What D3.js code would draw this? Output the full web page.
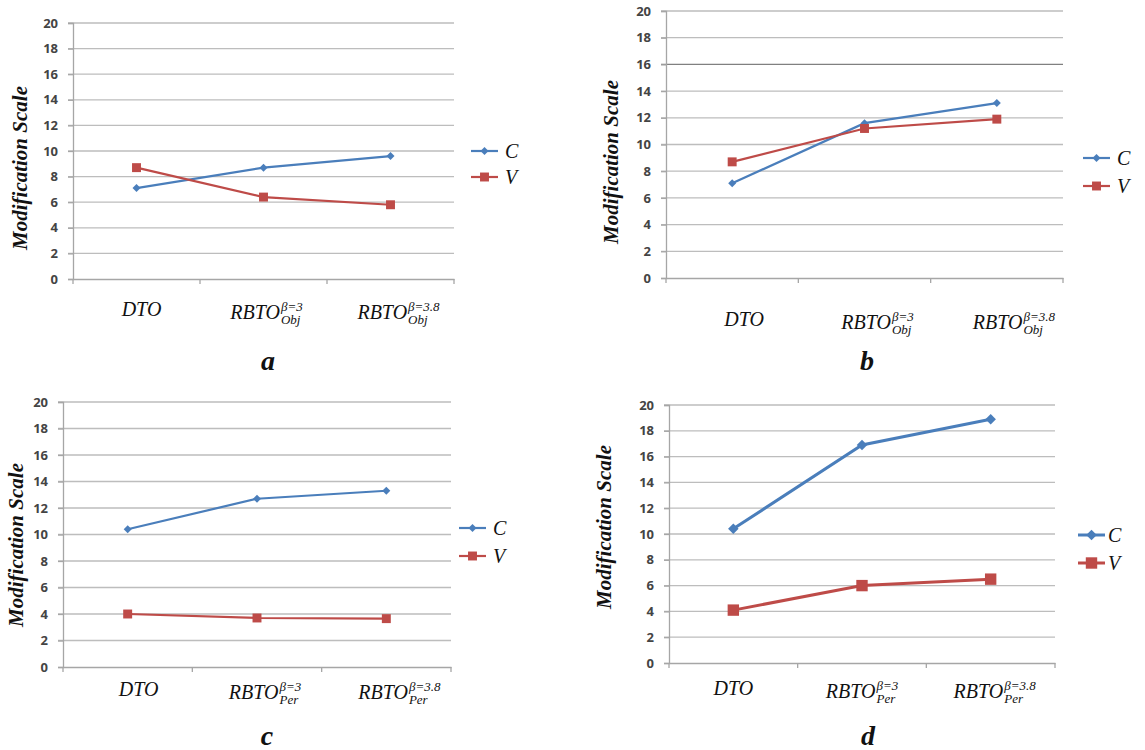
<!DOCTYPE html>
<html>
<head>
<meta charset="utf-8">
<script src="https://cdn.jsdelivr.net/npm/d3@7"></script>
<style>
  body { margin: 0; background: #fff; }
  svg { display: block; }
</style>
</head>
<body>
<script>
var width = 1145,
    height = 750;

// categories and labels
var xBase = ["DTO", "RBTO", "RBTO"];
var xSup = ["", "\u03B2=3", "\u03B2=3.8"];
var xSubObj = ["", "Obj", "Obj"];
var xSubPer = ["", "Per", "Per"];
var yTicks = [0, 2, 4, 6, 8, 10, 12, 14, 16, 18, 20];
var seriesNames = ["C", "V"];
var panelLetters = ["a", "b", "c", "d"];

// values
var aC = [7.1, 8.7, 9.6],   aV = [8.7, 6.4, 5.8];
var bC = [7.1, 11.6, 13.1], bV = [8.7, 11.2, 11.9];
var cC = [10.4, 12.7, 13.3], cV = [4.0, 3.7, 3.65];
var dC = [10.4, 16.9, 18.9], dV = [4.1, 6.0, 6.5];

var colors = ["#4A7EBB", "#BE4B48"];

/* layout of each of the four panels */
var panels = [
  {letter: 0, C: aC, V: aV, sub: xSubObj, x0: 73, x1: 454, y0: 23, y1: 279,
   labelY: 319, labelDx: [5, 3, 8], titleX: 27, titleY: 168,
   legX: 471, legY: [151, 177], letterX: 268, letterY: 370, lw: 2.2, big: false, darkGrid: null},
  {letter: 1, C: bC, V: bV, sub: xSubObj, x0: 666, x1: 1063, y0: 11, y1: 278,
   labelY: 329, labelDx: [12, 13, 17], titleX: 618, titleY: 162,
   legX: 1083, legY: [158, 186], letterX: 867, letterY: 370, lw: 2.2, big: false, darkGrid: 16},
  {letter: 2, C: cC, V: cV, sub: xSubPer, x0: 63, x1: 451, y0: 402, y1: 667,
   labelY: 699, labelDx: [11, 8, 13], titleX: 23, titleY: 545,
   legX: 459, legY: [528, 556], letterX: 267, letterY: 745, lw: 2.2, big: false, darkGrid: null},
  {letter: 3, C: dC, V: dV, sub: xSubPer, x0: 669, x1: 1055, y0: 405, y1: 663,
   labelY: 698, labelDx: [0, 0, 4], titleX: 611, titleY: 527,
   legX: 1078, legY: [535, 563], letterX: 868, letterY: 745, lw: 3, big: true, darkGrid: null}
];

var svg = d3.select('body').append('svg')
    .attr('width', width)
    .attr('height', height);

var serif = "Liberation Serif, Times New Roman, serif";

panels.forEach(drawPanel);

function drawPanel(p) {
  var g = svg.append('g');
  var cats = xBase.map(function(d, i) { return i; });

  var x = d3.scaleBand()
      .domain(cats)
      .range([p.x0, p.x1]);
  var y = d3.scaleLinear()
      .domain([0, 20])
      .range([p.y1, p.y0]);

  /* gridlines */
  g.selectAll('.grid')
    .data(yTicks.slice(1))
    .enter().append('line')
      .attr('x1', p.x0 - 5)
      .attr('x2', p.x1)
      .attr('y1', function(d) { return y(d); })
      .attr('y2', function(d) { return y(d); })
      .style('stroke', function(d) { return d === p.darkGrid ? '#808080' : '#bdbdbd'; })
      .style('stroke-width', 1.3);

  /* y axis */
  var yAxis = d3.axisLeft(y)
      .tickValues(yTicks)
      .tickSize(5)
      .tickPadding(10);
  var ya = g.append('g')
      .attr('transform', 'translate(' + p.x0 + ',0)')
      .call(yAxis);
  ya.select('.domain').style('stroke', '#a6a6a6').style('stroke-width', 1.3);
  ya.selectAll('.tick line').style('stroke', '#a6a6a6').style('stroke-width', 1.3);
  ya.selectAll('.tick text')
      .style('font-family', "Open Sans, sans-serif")
      .style('font-size', '13px')
      .style('font-weight', 'bold')
      .style('fill', '#444');

  /* x axis: line and boundary ticks */
  var xa = d3.axisBottom(x)
      .tickSize(0)
      .tickFormat('');
  var xg = g.append('g')
      .attr('transform', 'translate(0,' + p.y1 + ')')
      .call(xa);
  xg.select('.domain').style('stroke', '#a6a6a6').style('stroke-width', 1.3);
  var bounds = cats.map(function(c) { return x(c); }).concat([p.x1]);
  g.selectAll('.xtick')
    .data(bounds)
    .enter().append('line')
      .attr('x1', function(d) { return d; })
      .attr('x2', function(d) { return d; })
      .attr('y1', p.y1)
      .attr('y2', p.y1 + 5)
      .style('stroke', '#a6a6a6')
      .style('stroke-width', 1.3);

  /* x category labels */
  cats.forEach(function(c, i) {
    var cx = x(c) + x.bandwidth() / 2 + p.labelDx[i];
    var by = i === 0 ? p.labelY - 3 : p.labelY;
    var lg = g.append('g');
    var base = lg.append('text')
        .attr('x', 0).attr('y', by)
        .style('font-family', serif)
        .style('font-style', 'italic')
        .style('font-size', '20px')
        .style('fill', '#111')
        .text(xBase[i]);
    var bw = base.node().getComputedTextLength();
    var extra = 0;
    if (xSup[i]) {
      var sup = lg.append('text')
          .attr('x', bw + 1).attr('y', by - 8)
          .style('font-family', serif)
          .style('font-style', 'italic')
          .style('font-size', '13px')
          .style('fill', '#111')
          .text(xSup[i]);
      var sub = lg.append('text')
          .attr('x', bw + 1).attr('y', by + 5)
          .style('font-family', serif)
          .style('font-style', 'italic')
          .style('font-size', '13px')
          .style('fill', '#111')
          .text(p.sub[i]);
      extra = 1 + Math.max(sup.node().getComputedTextLength(), sub.node().getComputedTextLength());
    }
    lg.attr('transform', 'translate(' + (cx - (bw + extra) / 2) + ',0)');
  });

  /* y axis title */
  g.append('text')
      .attr('transform', 'translate(' + p.titleX + ',' + p.titleY + ') rotate(-90)')
      .attr('text-anchor', 'middle')
      .style('font-family', serif)
      .style('font-style', 'italic')
      .style('font-weight', 'bold')
      .style('font-size', '21px')
      .style('fill', '#111')
      .text('Modification Scale');

  /* series */
  var diamond = d3.symbol(d3.symbolSquare, p.big ? 55 : 32);
  var square = d3.symbol(d3.symbolSquare, p.big ? 130 : 80);
  var line = d3.line()
      .x(function(d, i) { return x(i) + x.bandwidth() / 2; })
      .y(function(d) { return y(d); });

  [p.C, p.V].forEach(function(vals, s) {
    g.append('path')
        .datum(vals)
        .attr('d', line)
        .style('fill', 'none')
        .style('stroke', colors[s])
        .style('stroke-width', p.lw);
    g.selectAll('.m' + s)
      .data(vals)
      .enter().append('path')
        .attr('transform', function(d, i) {
          return 'translate(' + (x(i) + x.bandwidth() / 2) + ',' + y(d) + ')' + (s === 0 ? ' rotate(45)' : '');
        })
        .attr('d', s === 0 ? diamond : square)
        .style('fill', colors[s]);
  });

  /* legend */
  seriesNames.forEach(function(name, s) {
    var ly = p.legY[s];
    g.append('line')
        .attr('x1', p.legX).attr('x2', p.legX + 27)
        .attr('y1', ly).attr('y2', ly)
        .style('stroke', colors[s])
        .style('stroke-width', p.lw);
    g.append('path')
        .attr('transform', 'translate(' + (p.legX + 13.5) + ',' + ly + ')' + (s === 0 ? ' rotate(45)' : ''))
        .attr('d', s === 0 ? diamond : square)
        .style('fill', colors[s]);
    g.append('text')
        .attr('x', p.legX + (p.big ? 30 : 34))
        .attr('y', ly + 7)
        .style('font-family', serif)
        .style('font-style', 'italic')
        .style('font-size', '20px')
        .style('fill', '#111')
        .text(name);
  });

  /* panel letter */
  g.append('text')
      .attr('x', p.letterX)
      .attr('y', p.letterY)
      .attr('text-anchor', 'middle')
      .style('font-family', serif)
      .style('font-style', 'italic')
      .style('font-weight', 'bold')
      .style('font-size', '28px')
      .style('fill', '#111')
      .text(panelLetters[p.letter]);
}
</script>
</body>
</html>
